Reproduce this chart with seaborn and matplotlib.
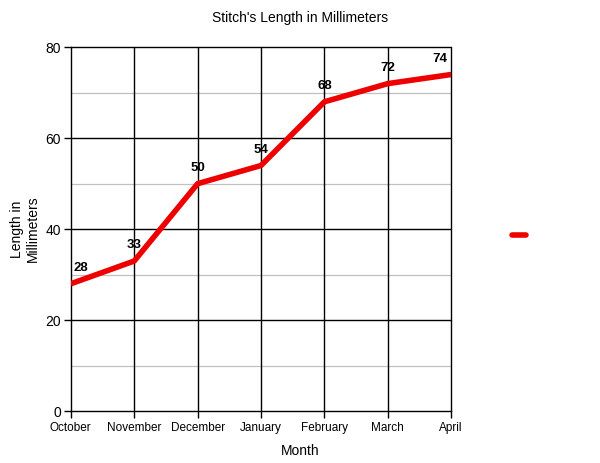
import numpy as np
import pandas as pd
import matplotlib
matplotlib.use("Agg")
import matplotlib.pyplot as plt
import seaborn as sns

months = ["October", "November", "December", "January", "February", "March", "April"]
lengths = [28, 33, 50, 54, 68, 72, 74]

df = pd.DataFrame({"Month": months, "Length": lengths})

sns.set_style("white")
plt.rcParams['font.family'] = ['Liberation Sans', 'DejaVu Sans']
plt.rcParams['text.color'] = 'black'
plt.rcParams['axes.labelcolor'] = 'black'
plt.rcParams['xtick.color'] = 'black'
plt.rcParams['ytick.color'] = 'black'

fig = plt.figure(figsize=(6, 4.63), dpi=100)
ax = fig.add_axes([0.118, 0.112, 0.634, 0.786])

# minor gray gridlines at odd tens, black at major
for y in [10, 30, 50, 70]:
    ax.axhline(y, color="#c0c0c0", lw=0.9, zorder=0)
for y in [20, 40, 60, 80]:
    ax.axhline(y, color="black", lw=1.0, zorder=0, clip_on=False)
for i in range(1, len(months)):
    ax.axvline(i, color="black", lw=1.0, zorder=0, clip_on=False)

sns.lineplot(data=df, x="Month", y="Length", sort=False, color="#ee0000",
             lw=4, ax=ax, label=" ", zorder=3, solid_capstyle="butt")

n = len(months)
for i, v in enumerate(lengths):
    dx = 7 if i == 0 else (-8 if i == n - 1 else 0)
    ax.annotate(str(v), (i, v), xytext=(dx, 11.5), textcoords="offset points",
                fontsize=9.5, fontweight="bold", ha="center", va="center",
                zorder=4, annotation_clip=False)

ax.set_xlim(0, n - 1)
ax.set_ylim(0, 80)
ax.set_yticks([0, 20, 40, 60, 80])
ax.set_xticks(range(n))
ax.set_xticklabels(months, fontsize=8.5)
ax.tick_params(axis="y", labelsize=10, length=5, width=1, pad=2, left=True)
ax.tick_params(axis="x", length=5, width=1, pad=3, bottom=True)

for s in ["top", "right"]:
    ax.spines[s].set_visible(False)
for s in ["left", "bottom"]:
    ax.spines[s].set_color("black")
    ax.spines[s].set_linewidth(1.0)

ax.set_xlabel("")
ax.set_ylabel("Length in\nMillimeters", fontsize=10, labelpad=4)
fig.text(0.5, 0.026, "Month", fontsize=10, ha="center", va="center")
fig.text(0.5, 0.961, "Stitch's Length in Millimeters", fontsize=10, ha="center", va="center")

leg = ax.legend(loc="center left", bbox_to_anchor=(1.13, 0.48), frameon=False,
                handlelength=1.1, fontsize=9)
for h in leg.get_lines():
    h.set_solid_capstyle("round")

fig.savefig("out.png", dpi=100)
